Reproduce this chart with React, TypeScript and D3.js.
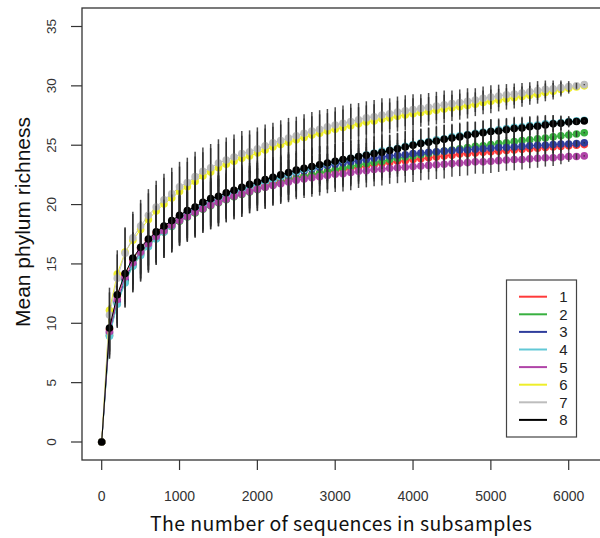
import React from "react";
import * as d3 from "d3";

// subsample sizes (x)
const subsamples = [
  0, 100, 200, 300, 400, 500, 600, 700, 800, 900, 1000,
  1100, 1200, 1300, 1400, 1500, 1600, 1700, 1800, 1900, 2000,
  2100, 2200, 2300, 2400, 2500, 2600, 2700, 2800, 2900, 3000,
  3100, 3200, 3300, 3400, 3500, 3600, 3700, 3800, 3900, 4000,
  4100, 4200, 4300, 4400, 4500, 4600, 4700, 4800, 4900, 5000,
  5100, 5200, 5300, 5400, 5500, 5600, 5700, 5800, 5900, 6000,
  6100, 6200,
];

const richness1 = [
  0, 9.5, 12.3, 14.1, 15.4, 16.3, 17.0, 17.6, 18.1, 18.5, 18.9,
  19.25, 19.6, 19.9, 20.2, 20.45, 20.7, 20.9, 21.1, 21.3, 21.5,
  21.65, 21.8, 21.95, 22.1, 22.25, 22.4, 22.5, 22.65, 22.75, 22.85,
  22.95, 23.05, 23.15, 23.25, 23.35, 23.45, 23.55, 23.65, 23.7, 23.8,
  23.85, 23.95, 24.0, 24.1, 24.15, 24.25, 24.3, 24.35, 24.4, 24.45,
  24.5, 24.55, 24.6, 24.65, 24.7, 24.75, 24.8, 24.85, 24.9, 24.95,
  25.0, 25.05,
];
const richness2 = [
  0, 9.0, 11.7, 13.5, 14.85, 15.8, 16.55, 17.15, 17.7, 18.15, 18.6,
  18.95, 19.3, 19.6, 19.9, 20.15, 20.4, 20.65, 20.85, 21.05, 21.25,
  21.45, 21.65, 21.85, 22.05, 22.2, 22.35, 22.5, 22.65, 22.8, 22.95,
  23.1, 23.2, 23.35, 23.45, 23.55, 23.65, 23.8, 23.9, 24.0, 24.1,
  24.2, 24.3, 24.4, 24.5, 24.6, 24.7, 24.8, 24.9, 24.95, 25.05,
  25.15, 25.2, 25.3, 25.4, 25.45, 25.55, 25.6, 25.7, 25.8, 25.85,
  25.95, 26.05,
];
const richness3 = [
  0, 9.2, 11.8, 13.7, 15.0, 15.95, 16.7, 17.35, 17.9, 18.45, 18.9,
  19.3, 19.6, 19.95, 20.25, 20.5, 20.8, 21.05, 21.3, 21.5, 21.75,
  21.95, 22.15, 22.35, 22.5, 22.7, 22.85, 23.0, 23.15, 23.3, 23.4,
  23.5, 23.6, 23.7, 23.8, 23.9, 24.0, 24.1, 24.15, 24.2, 24.3,
  24.35, 24.4, 24.45, 24.5, 24.55, 24.6, 24.6, 24.65, 24.7, 24.75,
  24.8, 24.8, 24.85, 24.9, 24.95, 25.0, 25.0, 25.05, 25.1, 25.1,
  25.15, 25.2,
];
const richness4 = [
  0, 8.9, 11.6, 13.4, 14.8, 15.7, 16.45, 17.1, 17.7, 18.2, 18.7,
  19.1, 19.45, 19.8, 20.1, 20.4, 20.7, 20.95, 21.2, 21.45, 21.7,
  21.9, 22.1, 22.35, 22.55, 22.75, 22.95, 23.1, 23.3, 23.45, 23.6,
  23.75, 23.9, 24.05, 24.2, 24.35, 24.5, 24.6, 24.75, 24.9, 25.05,
  25.2, 25.3, 25.45, 25.55, 25.7, 25.8, 25.9, 26.0, 26.1, 26.2,
  26.3, 26.4, 26.5, 26.55, 26.65, 26.7, 26.8, 26.85, 26.9, 27.0,
  27.05, 27.1,
];
const richness5 = [
  0, 9.3, 12.0, 13.9, 15.1, 16.0, 16.7, 17.3, 17.8, 18.25, 18.65,
  19.0, 19.35, 19.65, 19.95, 20.2, 20.45, 20.7, 20.9, 21.1, 21.3,
  21.45, 21.6, 21.75, 21.9, 22.05, 22.15, 22.25, 22.35, 22.45, 22.55,
  22.6, 22.7, 22.8, 22.85, 22.95, 23.0, 23.05, 23.1, 23.15, 23.2,
  23.25, 23.3, 23.35, 23.4, 23.45, 23.5, 23.55, 23.6, 23.6, 23.65,
  23.7, 23.75, 23.8, 23.8, 23.85, 23.9, 23.95, 23.95, 24.0, 24.05,
  24.05, 24.1,
];
const richness6 = [
  0, 11.1, 14.15, 16.0, 17.0, 17.9, 18.75, 19.45, 20.05, 20.55, 21.1,
  21.5, 21.95, 22.4, 22.75, 23.1, 23.4, 23.65, 23.9, 24.1, 24.35,
  24.6, 24.85, 25.05, 25.25, 25.45, 25.65, 25.85, 26.0, 26.2, 26.35,
  26.5, 26.65, 26.8, 26.95, 27.05, 27.2, 27.3, 27.45, 27.55, 27.65,
  27.75, 27.85, 27.95, 28.05, 28.15, 28.25, 28.35, 28.45, 28.6, 28.7,
  28.8, 28.9, 29.0, 29.1, 29.2, 29.3, 29.45, 29.55, 29.7, 29.8,
  29.9, 30.0,
];
const richness7 = [
  0, 10.7, 13.8, 15.9, 17.2, 18.2, 19.1, 19.8, 20.4, 20.9, 21.5,
  21.85, 22.35, 22.8, 23.1, 23.5, 23.75, 24.0, 24.3, 24.45, 24.7,
  24.95, 25.2, 25.4, 25.6, 25.8, 26.0, 26.2, 26.35, 26.55, 26.7,
  26.85, 27.0, 27.15, 27.3, 27.4, 27.55, 27.65, 27.8, 27.9, 28.0,
  28.1, 28.2, 28.3, 28.4, 28.5, 28.6, 28.7, 28.8, 28.95, 29.05,
  29.15, 29.25, 29.3, 29.4, 29.5, 29.6, 29.7, 29.75, 29.85, 29.95,
  30.0, 30.1,
];
const richness8 = [
  0, 9.6, 12.4, 14.2, 15.5, 16.4, 17.1, 17.7, 18.2, 18.65, 19.1,
  19.5, 19.8, 20.2, 20.5, 20.7, 21.0, 21.2, 21.45, 21.7, 21.9,
  22.1, 22.3, 22.5, 22.7, 22.9, 23.05, 23.2, 23.35, 23.5, 23.65,
  23.8, 23.9, 24.05, 24.15, 24.3, 24.4, 24.55, 24.7, 24.85, 25.0,
  25.15, 25.25, 25.35, 25.5, 25.6, 25.7, 25.85, 25.95, 26.05, 26.15,
  26.2, 26.3, 26.4, 26.45, 26.55, 26.6, 26.7, 26.8, 26.85, 26.95,
  27.0, 27.05,
];

// standard deviation for the error bars
const richnessSd = [
  0, 1.9, 2.0, 2.1, 2.2, 2.2, 2.2, 2.2, 2.2, 2.2, 2.1,
  2.1, 2.1, 2.0, 2.0, 2.0, 1.9, 1.9, 1.9, 1.8, 1.8,
  1.8, 1.7, 1.7, 1.7, 1.6, 1.6, 1.6, 1.6, 1.5, 1.5,
  1.5, 1.5, 1.4, 1.4, 1.4, 1.4, 1.3, 1.3, 1.3, 1.3,
  1.2, 1.2, 1.2, 1.2, 1.1, 1.1, 1.1, 1.0, 1.0, 1.0,
  0.95, 0.9, 0.9, 0.85, 0.8, 0.8, 0.75, 0.7, 0.6, 0.45,
  0.25, 0.05,
];

const seriesNames = ["1", "2", "3", "4", "5", "6", "7", "8"];
const seriesColors = ["#ff3a3a", "#38b040", "#2f3d9c", "#62c8d6", "#b044a8", "#eeee2a", "#bdbdbd", "#000000"];
const allSeries = [richness1, richness2, richness3, richness4, richness5, richness6, richness7, richness8];

const xTicks = [0, 1000, 2000, 3000, 4000, 5000, 6000];
const yTicks = [0, 5, 10, 15, 20, 25, 30, 35];

const font = "'Liberation Sans', Arial, sans-serif";

export default function App() {
  const width = 600;
  const height = 538;
  const box = { left: 82, top: 8, bottom: 460 };

  const x = d3.scaleLinear().domain([0, 6000]).range([101.7, 568.7]);
  const y = d3.scaleLinear().domain([0, 35]).range([442, 26.5]);

  const line = d3
    .line<number>()
    .x((_, i) => x(subsamples[i]))
    .y((d) => y(d));

  return (
    <svg
      width={width}
      height={height}
      style={{ position: "absolute", left: 0, top: 0, background: "#fff" }}
    >
      {/* series: line, points, then error bars */}
      {allSeries.map((vals, s) => (
        <g key={s}>
          <path d={line(vals) || ""} fill="none" stroke={seriesColors[s]} strokeWidth={1} />
          {vals.map((v, i) => (
            <circle key={i} cx={x(subsamples[i])} cy={y(v)} r={3.8} fill={seriesColors[s]} />
          ))}
          {vals.map((v, i) =>
            richnessSd[i] > 0 ? (
              <line
                key={"e" + i}
                x1={x(subsamples[i])}
                x2={x(subsamples[i])}
                y1={y(v - richnessSd[i])}
                y2={y(v + richnessSd[i])}
                stroke="#2a2a2a"
                strokeWidth={1.5}
                strokeOpacity={0.85}
              />
            ) : null
          )}
        </g>
      ))}

      {/* box */}
      <rect x={box.left} y={box.top} width={560} height={box.bottom - box.top} fill="none" stroke="#333" strokeWidth={1.3} />

      {/* y axis */}
      <g>
        {yTicks.map((t) => (
          <g key={t}>
            <line x1={box.left - 11} x2={box.left} y1={y(t)} y2={y(t)} stroke="#333" strokeWidth={1.2} />
            <text
              transform={`translate(55.5,${y(t)}) rotate(-90)`}
              textAnchor="middle"
              fontFamily={font}
              fontSize={13.5}
              fill="#333"
            >
              {t}
            </text>
          </g>
        ))}
        <text
          transform={`translate(30,222) rotate(-90)`}
          textAnchor="middle"
          fontFamily={font}
          fontSize={21}
          fill="#111"
        >
          Mean phylum richness
        </text>
      </g>

      {/* x axis */}
      <g>
        {xTicks.map((t) => (
          <g key={t}>
            <line x1={x(t)} x2={x(t)} y1={box.bottom} y2={box.bottom + 10} stroke="#333" strokeWidth={1.2} />
            <text x={x(t)} y={501} textAnchor="middle" fontFamily={font} fontSize={14} fill="#333">
              {t}
            </text>
          </g>
        ))}
        <text
          x={341}
          y={531}
          textAnchor="middle"
          fontFamily="'Noto Sans CJK KR', 'Noto Sans', sans-serif"
          fontSize={19.5}
          textLength={382}
          lengthAdjust="spacing"
          fill="#111"
        >
          The number of sequences in subsamples
        </text>
      </g>

      {/* legend */}
      <g>
        <rect x={506.5} y={280} width={70} height={157} fill="#fff" stroke="#444" strokeWidth={1.2} />
        {seriesNames.map((name, i) => {
          const ly = 296.7 + i * 17.6;
          return (
            <g key={name}>
              <line x1={519} x2={547} y1={ly} y2={ly} stroke={seriesColors[i]} strokeWidth={2} />
              <text x={563.5} y={ly} dy="0.36em" textAnchor="middle" fontFamily={font} fontSize={15} fill="#222">
                {name}
              </text>
            </g>
          );
        })}
      </g>
    </svg>
  );
}
